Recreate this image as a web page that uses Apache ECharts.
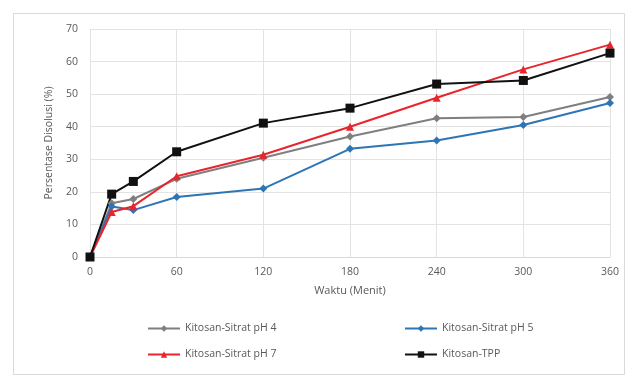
<!DOCTYPE html>
<html>
<head>
<meta charset="utf-8">
<script src="https://cdn.jsdelivr.net/npm/echarts@6/dist/echarts.min.js"></script>
<style>
  html, body { margin: 0; padding: 0; background: #fff; }
  #chart { width: 635px; height: 383px; }
</style>
</head>
<body>
<div id="chart"></div>
<script>
// Sampling times (minutes)
const waktu = [0, 15, 30, 60, 120, 180, 240, 300, 360];

// Dissolution percentage per formulation
const sitratPH4 = [0, 16.5, 17.8, 24.0, 30.5, 37.0, 42.6, 43.0, 49.1];
const sitratPH5 = [0, 15.5, 14.4, 18.4, 21.0, 33.2, 35.8, 40.5, 47.3];
const sitratPH7 = [0, 13.8, 15.6, 24.8, 31.4, 40.0, 48.9, 57.6, 65.2];
const tpp       = [0, 19.3, 23.2, 32.3, 41.1, 45.7, 53.1, 54.2, 62.6];

const xTicks = { min: 0, max: 360, step: 60 };
const yTicks = { min: 0, max: 70, step: 10 };

const seriesNames = ['Kitosan-Sitrat pH 4', 'Kitosan-Sitrat pH 5', 'Kitosan-Sitrat pH 7', 'Kitosan-TPP'];

const pair = arr => waktu.map((t, i) => [t, arr[i]]);

const font = 'Open Sans, Liberation Sans, sans-serif';
const labelColor = '#595959';

function legendAt(name, left, top) {
  return {
    data: [name], left: left, top: top,
    itemWidth: 32, itemHeight: 8, itemGap: 4,
    textStyle: { fontFamily: font, fontSize: 10.5, color: labelColor },
    padding: 0
  };
}

const chart = echarts.init(document.getElementById('chart'), null, { renderer: 'canvas' });

chart.setOption({
  backgroundColor: '#ffffff',
  animation: false,
  graphic: [{
    type: 'rect',
    shape: { x: 13.5, y: 13.5, width: 611, height: 361 },
    style: { fill: 'none', stroke: '#d9d9d9', lineWidth: 1 },
    silent: true
  }],
  grid: { left: 90, right: 25, top: 29, bottom: 126 },
  legend: [
    legendAt(seriesNames[0], 147, 323),
    legendAt(seriesNames[1], 404, 323),
    legendAt(seriesNames[2], 147, 349),
    legendAt(seriesNames[3], 404, 349)
  ],
  xAxis: {
    type: 'value',
    min: xTicks.min, max: xTicks.max, interval: xTicks.step,
    name: 'Waktu (Menit)',
    nameLocation: 'middle',
    nameGap: 28,
    nameTextStyle: { fontFamily: font, fontSize: 11, color: labelColor },
    axisLine: { show: true, lineStyle: { color: '#d9d9d9' } },
    axisTick: { show: false },
    axisLabel: { fontFamily: font, fontSize: 10.5, color: labelColor, margin: 10 },
    splitLine: { show: true, lineStyle: { color: '#e3e3e3' } }
  },
  yAxis: {
    type: 'value',
    min: yTicks.min, max: yTicks.max, interval: yTicks.step,
    name: 'Persentase Disolusi (%)',
    nameLocation: 'middle',
    nameGap: 35,
    nameTextStyle: { fontFamily: font, fontSize: 10.5, color: labelColor },
    axisLine: { show: false },
    axisTick: { show: false },
    axisLabel: { fontFamily: font, fontSize: 10.5, color: labelColor, margin: 12 },
    splitLine: { show: true, lineStyle: { color: '#e3e3e3' } }
  },
  series: [
    {
      name: seriesNames[0], type: 'line', data: pair(sitratPH4),
      symbol: 'diamond', symbolSize: 8,
      lineStyle: { color: '#7f7f7f', width: 2 },
      itemStyle: { color: '#7f7f7f' }
    },
    {
      name: seriesNames[1], type: 'line', data: pair(sitratPH5),
      symbol: 'diamond', symbolSize: 8,
      lineStyle: { color: '#2e75b6', width: 2 },
      itemStyle: { color: '#2e75b6' }
    },
    {
      name: seriesNames[2], type: 'line', data: pair(sitratPH7),
      symbol: 'triangle', symbolSize: 8,
      lineStyle: { color: '#e8242c', width: 2 },
      itemStyle: { color: '#e8242c' }
    },
    {
      name: seriesNames[3], type: 'line', data: pair(tpp),
      symbol: 'rect', symbolSize: 9,
      lineStyle: { color: '#111111', width: 2 },
      itemStyle: { color: '#111111' }
    }
  ]
});
</script>
</body>
</html>
